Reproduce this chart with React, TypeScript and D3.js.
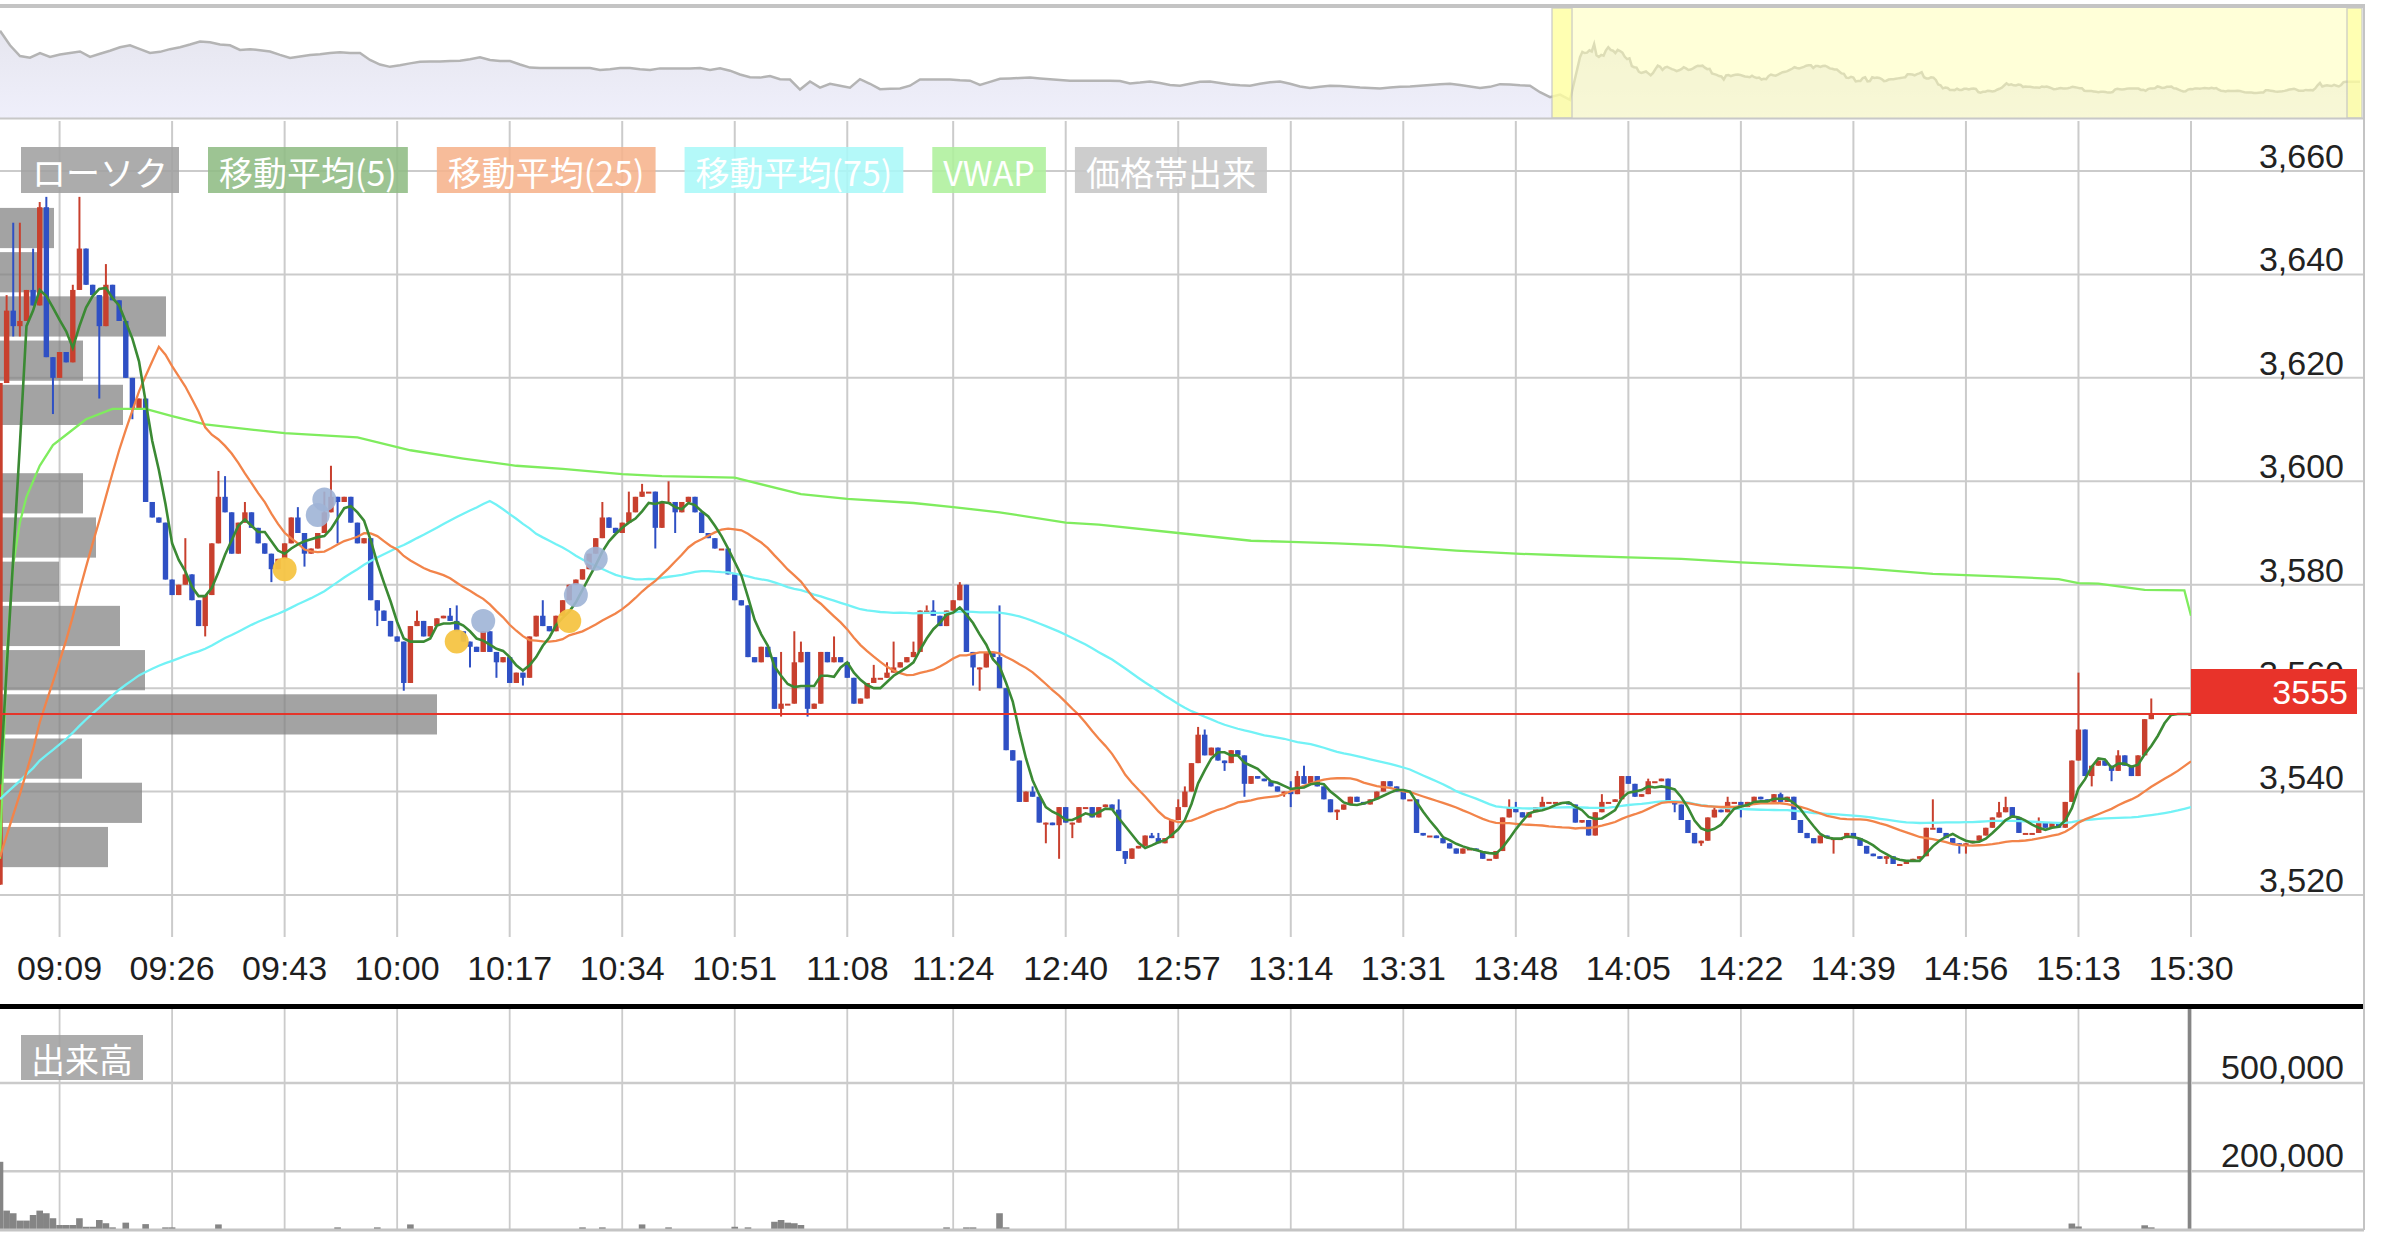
import { useEffect, useMemo } from "react";
import * as d3 from "d3";

// previous session, last 75 minutes in 5-minute steps (read from the navigator)
const prevSessionTail = [3543, 3544, 3546, 3548, 3547, 3544, 3541, 3543, 3546, 3542, 3530, 3524, 3522, 3521, 3522];

// 1-minute closes 09:00-11:30
const closesAM: number[] = [
  3619, 3633, 3630, 3631, 3637, 3634, 3653, 3624, 3620, 3625,
  3623, 3637, 3645, 3638, 3636, 3630, 3638, 3635, 3631, 3620,
  3614, 3616, 3596, 3593, 3592, 3581, 3578, 3580, 3582, 3577,
  3572, 3578, 3588, 3597, 3594, 3586, 3592, 3594, 3591, 3588,
  3586, 3583, 3585, 3588, 3593, 3590, 3586, 3587, 3590, 3594,
  3597, 3596, 3597, 3592, 3588, 3589, 3577, 3575, 3573, 3570,
  3569, 3561, 3572, 3573, 3570, 3572, 3573.5, 3574, 3573, 3571,
  3569, 3568, 3567, 3571, 3567, 3565, 3566, 3561, 3563, 3562,
  3570, 3574, 3572, 3571, 3574, 3577, 3580, 3581, 3583, 3586,
  3589, 3593, 3591, 3590, 3592, 3594, 3597, 3598, 3598, 3591,
  3596, 3596, 3594, 3596, 3597, 3594, 3590, 3589, 3587, 3587,
  3582, 3577, 3576, 3566, 3565, 3568, 3566, 3556, 3557, 3557,
  3565, 3567, 3556, 3557, 3567, 3565, 3566, 3565, 3562, 3557,
  3558, 3561, 3562, 3562, 3563, 3564, 3565, 3566, 3567, 3575,
  3575, 3574, 3572, 3575, 3577, 3580, 3567, 3564, 3564, 3567,
  3566,
];

// 1-minute closes 12:30-15:30 (null = no trade before the closing auction)
const closesPM: (number | null)[] = [
  3560, 3548, 3546, 3538, 3540, 3539, 3534, 3534, 3533.5, 3537,
  3534, 3534, 3537, 3537, 3535, 3537, 3537.5, 3536.5, 3528.5, 3527,
  3529, 3529.5, 3531.5, 3531, 3530, 3531, 3534.5, 3537, 3540, 3545.5,
  3551, 3547, 3548.5, 3546, 3545.5, 3548, 3547, 3541.5, 3543, 3542.5,
  3542, 3541, 3540, 3540, 3539.5, 3543, 3541.5, 3543, 3541, 3538.5,
  3536, 3536.5, 3537.5, 3539, 3538, 3537.5, 3538.5, 3540, 3542, 3541,
  3540, 3538.5, 3538.5, 3532, 3531.5, 3531.5, 3531, 3530, 3529, 3528,
  3529, 3529, 3528.5, 3527, 3527, 3528.5, 3535, 3537, 3536, 3535,
  3536, 3537, 3538, 3538, 3538, 3538, 3537.5, 3534, 3534.5, 3531.5,
  3536, 3538, 3538, 3538.5, 3543, 3541.5, 3539, 3539.5, 3542, 3542,
  3542.5, 3538, 3537.5, 3534.5, 3532, 3530, 3530.5, 3535, 3536.5, 3536,
  3538, 3538, 3537, 3538, 3539, 3538.5, 3538, 3539.5, 3538, 3539,
  3534.5, 3532, 3531, 3530, 3531.5, 3531, 3531, 3531, 3532, 3531,
  3529.5, 3528, 3527.5, 3527, 3527.5, 3526, 3526, 3526.5, 3527, 3527.5,
  3533, 3533, 3532, 3531, 3530, 3529.5, 3530, 3530.5, 3531.5, 3533,
  3535, 3536, 3537, 3535, 3532, 3532, 3532, 3534, 3533, 3534,
  3533, 3538, 3546, 3552, 3543, 3545, 3546, 3545, 3544, 3547,
  3545, 3543, 3547, 3554, 3555, null, null, null, null, null,
  3555,
];

// [slot, price] wick extremes beyond the body
const wickHighs: [number, number][] = [
  [1, 3636], [2, 3650], [3, 3650], [5, 3645], [6, 3654], [7, 3655], [11, 3638], [12, 3655], [14, 3637],
  [16, 3642], [28, 3589], [33, 3602], [34, 3601], [37, 3596], [38, 3594], [45, 3595], [49, 3598], [50, 3603],
  [63, 3575], [68, 3575.5], [69, 3576], [82, 3577], [91, 3596], [95, 3598], [97, 3599.5], [101, 3600],
  [118, 3567], [120, 3571], [121, 3569], [126, 3570], [132, 3564.5], [134, 3565], [135, 3569], [138, 3569],
  [140, 3576], [141, 3577], [145, 3580.5], [151, 3576], [156, 3541], [169, 3538.5], [174, 3532], [175, 3532],
  [178, 3538.5], [179, 3541], [181, 3552.5], [182, 3552], [195, 3542], [196, 3544], [197, 3545], [228, 3538.5],
  [229, 3538], [233, 3539], [242, 3539.5], [249, 3542.5], [259, 3537], [261, 3539], [269, 3539.8], [292, 3538.5],
  [302, 3538], [303, 3539], [308, 3535], [314, 3563], [320, 3548], [325, 3558],
];
const wickLows: [number, number][] = [
  [2, 3628], [3, 3628], [8, 3613], [15, 3616], [20, 3612], [31, 3570], [41, 3580.5], [46, 3583.5], [51, 3588],
  [57, 3572], [61, 3559.5], [71, 3564], [75, 3562], [79, 3560.5], [99, 3587], [102, 3590], [118, 3554.5],
  [122, 3554.5], [147, 3560.5], [148, 3559.5], [158, 3530], [160, 3527], [162, 3531], [170, 3526], [185, 3544],
  [188, 3539], [194, 3539], [195, 3537], [202, 3534.5], [253, 3536], [257, 3529.5], [263, 3535], [277, 3528],
  [285, 3526], [296, 3528], [297, 3528], [316, 3541], [319, 3542],
];

// [slot, shares]
const volumes: [number, number][] = [
  [0, 232000], [1, 66000], [2, 57000], [3, 32000], [4, 32000], [5, 51000], [6, 66000], [7, 57000], [8, 40000],
  [9, 17000], [10, 17000], [11, 17000], [12, 40000], [13, 11000], [14, 11000], [15, 34000], [16, 23000],
  [17, 9000], [19, 25000], [22, 20000], [25, 9000], [26, 9000], [33, 19000], [51, 9000], [57, 9000],
  [62, 19000], [88, 9000], [91, 9000], [97, 19000], [101, 9000], [111, 11000], [113, 9000], [117, 28000],
  [118, 34000], [119, 25000], [120, 23000], [121, 17000], [143, 9000], [146, 9000], [147, 9000], [151, 57000],
  [152, 9000], [313, 22000], [314, 12000], [324, 16000], [325, 9000], [331, 820000],
];

// [slot, price]
const vwapPoints: [number, number][] = [
  [0, 3527], [1, 3566], [2, 3584], [3, 3592], [4, 3597], [6, 3603], [8, 3607], [10, 3609], [13, 3612],
  [17, 3614], [22, 3614], [26, 3612.6], [31, 3611], [38, 3610], [43, 3609.3], [54, 3608.5], [62, 3606],
  [70, 3604.4], [78, 3603], [85, 3602.4], [94, 3601.4], [100, 3601], [111, 3600.7], [121, 3597.5],
  [128, 3596.6], [138, 3595.8], [144, 3595], [151, 3594], [161, 3592], [166, 3591.6], [178, 3590],
  [189, 3588.5], [195, 3588.3], [202, 3588], [209, 3587.6], [220, 3586.6], [229, 3586], [238, 3585.6],
  [246, 3585.3], [254, 3585], [263, 3584.3], [270, 3583.9], [281, 3583.2], [292, 3582.1], [302, 3581.6],
  [311, 3581.1], [314, 3580.3], [317, 3580.2], [324, 3579], [330, 3578.9], [331, 3574],
];

const timeLabels = [
  "09:09", "09:26", "09:43", "10:00", "10:17", "10:34", "10:51", "11:08", "11:24", "12:40",
  "12:57", "13:14", "13:31", "13:48", "14:05", "14:22", "14:39", "14:56", "15:13", "15:30",
];
const priceTicks = [3520, 3540, 3560, 3580, 3600, 3620, 3640, 3660];
const volumeTicks = [200000, 500000];

// volume by price band, bottom band first
const profileFrom = 3525;
const profileStep = 8.55;
const profileVolumes = [216000, 284000, 164000, 874000, 290000, 240000, 118000, 192000, 166000, 0, 246000, 166000, 332000, 80000, 108000];

// navigator: earlier sessions
const navHistory = [
  3688, 3650, 3622, 3618, 3630, 3620, 3626, 3630, 3634, 3620,
  3628, 3636, 3645, 3650, 3640, 3630, 3633, 3640, 3645, 3652,
  3660, 3658, 3652, 3650, 3638, 3640, 3637, 3634, 3625, 3617,
  3621, 3625, 3627, 3630, 3632, 3630, 3630, 3612, 3600, 3594,
  3598, 3603, 3607, 3608, 3608, 3609, 3610, 3614, 3619, 3612,
  3609, 3609, 3600, 3592, 3591, 3591, 3591, 3591, 3591, 3591,
  3586, 3588, 3591, 3591, 3588, 3586, 3590, 3590, 3590, 3590,
  3591, 3586, 3590, 3584, 3574, 3567, 3566, 3570, 3562, 3561,
  3535, 3556, 3540, 3550, 3545, 3540, 3562, 3550, 3536, 3537,
  3538, 3545, 3561, 3561, 3561, 3561, 3559, 3558, 3547, 3555,
  3563, 3564, 3565, 3566, 3564, 3562, 3560, 3558, 3558, 3558,
  3558, 3558, 3557, 3551, 3553, 3556, 3552, 3547, 3545, 3550,
  3555, 3556, 3552, 3548, 3546, 3545, 3550, 3554, 3556, 3550,
  3543, 3539, 3542, 3545, 3544, 3542, 3540, 3539, 3538, 3540,
  3542, 3543, 3545, 3547, 3549, 3550, 3547, 3543, 3539, 3542,
  3549, 3548, 3546, 3545, 3528, 3515, 3522, 3508,
];

// signal markers [slot, price]
const yellowMarks: [number, number][] = [[43, 3583], [69, 3569], [86, 3573]];
const greyMarks: [number, number][] = [[48, 3593.5], [49, 3596.5], [73, 3573], [87, 3578], [90, 3585]];

const lastPrice = 3555;

const legendLabels = ["ローソク", "移動平均(5)", "移動平均(25)", "移動平均(75)", "VWAP", "価格帯出来"];
const legendFills = ["#a0a0a0", "#90bc84", "#f6b38c", "#aaf8f8", "#aef09c", "#c6c6c6"];

const W = 2384;
const H = 1246;
const PLOT_R = 2191;
const FRAME_R = 2364;
const NAV_T = 8;
const NAV_B = 118;
const PLOT_T = 121;
const PLOT_B = 937;
const VOL_T = 1009;
const VOL_B = 1230;

const UP = "#c8402e";
const DOWN = "#2f50c4";
const GRID = "#cbcbcb";
const NUM_FONT = "'Liberation Sans', Arial, sans-serif";
const JP_FONT = "'Noto Sans CJK JP', sans-serif";

function slotOf(t: string) {
  const [h, m] = t.split(":").map(Number);
  const min = h * 60 + m;
  return min <= 690 ? min - 540 : 151 + (min - 750);
}

function textWidth(s: string, font: string) {
  const ctx = document.createElement("canvas").getContext("2d");
  if (!ctx) return s.length * 30;
  ctx.font = font;
  return ctx.measureText(s).width;
}

export default function App() {
  useEffect(() => {
    document.body.style.margin = "0";
    document.body.style.overflow = "hidden";
  }, []);

  const x = d3.scaleLinear().domain([0, 331]).range([0, PLOT_R]);
  const y = d3.scaleLinear().domain([3520, 3660]).range([895, 171]);
  const yv = d3.scaleLinear().domain([0, 500000]).range([VOL_B, 1083]);
  const profileX = d3.scaleLinear().domain([0, d3.max(profileVolumes) ?? 1]).range([0, 437]);

  const model = useMemo(() => {
    const closes: (number | null)[] = [...closesAM, ...closesPM];
    const filled: number[] = [];
    closes.forEach((c, i) => filled.push(c ?? filled[i - 1]));
    const history = prevSessionTail.flatMap((v) => [v, v, v, v, v]);
    const series = [...history, ...filled];
    const ma = (n: number) =>
      filled.map((_, i) => d3.mean(series.slice(history.length + i - n + 1, history.length + i + 1)) ?? 0);

    const hi = new Map(wickHighs);
    const lo = new Map(wickLows);
    const candles = closes
      .map((c, i) => {
        if (c == null) return null;
        const o = i === 0 ? prevSessionTail[prevSessionTail.length - 1] : filled[i - 1];
        return {
          i,
          o,
          c,
          h: Math.max(o, c, hi.get(i) ?? -Infinity),
          l: Math.min(o, c, lo.get(i) ?? Infinity),
        };
      })
      .filter((d): d is { i: number; o: number; c: number; h: number; l: number } => d !== null);

    return { filled, candles, ma5: ma(5), ma25: ma(25), ma75: ma(75) };
  }, []);

  const line = d3
    .line<number>()
    .x((_, i) => x(i))
    .y((v) => y(v));
  const vwapLine = d3
    .line<[number, number]>()
    .x((d) => x(d[0]))
    .y((d) => y(d[1]));

  // navigator
  const navX = d3.scaleLinear().domain([0, navHistory.length + 78]).range([0, 2360]);
  const navY = d3.scaleLinear().domain([3461, 3747]).range([NAV_B, NAV_T]);
  const navPts: [number, number][] = [
    ...navHistory.map((v, i) => [navX(i), navY(v)] as [number, number]),
    ...model.filled.map((v, s) => [navX(navHistory.length + (s * 78) / 331), navY(v)] as [number, number]),
  ];
  const navArea = d3
    .area<[number, number]>()
    .x((d) => d[0])
    .y0(NAV_B)
    .y1((d) => d[1])(navPts);
  const navLine = d3.line()(navPts);

  // legend layout
  const legendFont = `34px ${JP_FONT}`;
  let lx = 21;
  const legend = legendLabels.map((label, k) => {
    const w = textWidth(label, legendFont) + 22;
    const item = { label, x: lx, w, fill: legendFills[k] };
    lx += w + 29;
    return item;
  });
  const volLabel = "出来高";
  const volLabelW = textWidth(volLabel, legendFont) + 20;

  const bodyW = 5.4;
  const lastY = y(lastPrice);

  return (
    <div style={{ position: "absolute", left: 0, top: 0 }}>
      <svg width={W} height={H} style={{ display: "block", background: "#ffffff" }}>
        <defs>
          <clipPath id="plotClip">
            <rect x={0} y={PLOT_T} width={PLOT_R} height={PLOT_B - PLOT_T} />
          </clipPath>
          <clipPath id="volClip">
            <rect x={0} y={VOL_T} width={PLOT_R} height={VOL_B - VOL_T} />
          </clipPath>
          <linearGradient id="navFill" x1="0" y1="0" x2="0" y2="1">
            <stop offset="0%" stopColor="#e6e6ef" />
            <stop offset="100%" stopColor="#efeffb" />
          </linearGradient>
        </defs>

        {/* navigator */}
        <path d={navArea ?? ""} fill="url(#navFill)" />
        <path d={navLine ?? ""} fill="none" stroke="#b4b4b4" strokeWidth={2.5} />
        <rect x={1552} y={NAV_T} width={810} height={NAV_B - NAV_T} fill="#ffffb8" opacity={0.55} />
        <rect x={1552} y={NAV_T} width={20} height={NAV_B - NAV_T} fill="#ffff9a" opacity={0.6} stroke="#b8b8b8" strokeWidth={1.5} />
        <rect x={2347} y={NAV_T} width={15} height={NAV_B - NAV_T} fill="#ffff9a" opacity={0.6} stroke="#b8b8b8" strokeWidth={1.5} />
        <rect x={0} y={4} width={FRAME_R} height={4} fill="#c4c4c4" />
        <line x1={0} x2={FRAME_R} y1={NAV_B + 0.5} y2={NAV_B + 0.5} stroke="#c8c8c8" strokeWidth={2} />

        {/* price grid */}
        {priceTicks.map((p) => (
          <line key={p} x1={0} x2={FRAME_R} y1={y(p)} y2={y(p)} stroke={GRID} strokeWidth={2} />
        ))}
        {timeLabels.map((t) => (
          <line key={t} x1={x(slotOf(t))} x2={x(slotOf(t))} y1={PLOT_T} y2={PLOT_B} stroke={GRID} strokeWidth={2} />
        ))}
        {priceTicks.map((p) => (
          <text key={p} x={2344} y={y(p) - 3} textAnchor="end" fontFamily={NUM_FONT} fontSize={34} fill="#222">
            {d3.format(",")(p)}
          </text>
        ))}

        {/* volume by price */}
        {profileVolumes.map((v, k) => {
          const top = y(profileFrom + (k + 1) * profileStep) + 2;
          const bottom = y(profileFrom + k * profileStep) - 2;
          return <rect key={k} x={0} y={top} width={profileX(v)} height={bottom - top} fill="#7f7f7f" opacity={0.72} />;
        })}

        <g clipPath="url(#plotClip)">
          {model.candles.map((d) => {
            const up = d.c >= d.o;
            const yTop = y(Math.max(d.o, d.c));
            const hBody = Math.max(2, Math.abs(y(d.o) - y(d.c)));
            return (
              <g key={d.i}>
                <line x1={x(d.i)} x2={x(d.i)} y1={y(d.h)} y2={y(d.l)} stroke={up ? UP : DOWN} strokeWidth={2} />
                <rect x={x(d.i) - bodyW / 2} y={yTop} width={bodyW} height={hBody} fill={up ? UP : DOWN} />
              </g>
            );
          })}
          <path d={vwapLine(vwapPoints) ?? ""} fill="none" stroke="#7fec5e" strokeWidth={2.3} />
          <path d={line(model.ma75) ?? ""} fill="none" stroke="#72f2f6" strokeWidth={2.3} />
          <path d={line(model.ma25) ?? ""} fill="none" stroke="#f2844a" strokeWidth={2.3} />
          <path d={line(model.ma5) ?? ""} fill="none" stroke="#3b8a34" strokeWidth={2.6} />
          {yellowMarks.map(([s, p], k) => (
            <circle key={`y${k}`} cx={x(s)} cy={y(p)} r={12} fill="#f5c443" opacity={0.95} />
          ))}
          {greyMarks.map(([s, p], k) => (
            <circle key={`g${k}`} cx={x(s)} cy={y(p)} r={12} fill="#9fb4d6" opacity={0.9} />
          ))}
        </g>

        {/* last price */}
        <line x1={0} x2={PLOT_R} y1={lastY} y2={lastY} stroke="#e5352a" strokeWidth={2} />
        <rect x={PLOT_R} y={lastY - 45} width={166} height={45} fill="#e8332a" />
        <text x={2348} y={lastY - 10} textAnchor="end" fontFamily={NUM_FONT} fontSize={34} fill="#ffffff">
          {lastPrice}
        </text>

        {/* legend */}
        {legend.map((d) => (
          <g key={d.label}>
            <rect x={d.x} y={147} width={d.w} height={46} fill={d.fill} opacity={0.88} />
            <text x={d.x + d.w / 2} y={171} textAnchor="middle" dominantBaseline="central" fontFamily={JP_FONT} fontSize={34} fill="#ffffff">
              {d.label}
            </text>
          </g>
        ))}

        {/* time axis */}
        {timeLabels.map((t) => (
          <text key={t} x={x(slotOf(t))} y={980} textAnchor="middle" fontFamily={NUM_FONT} fontSize={34} fill="#1e1e1e">
            {t}
          </text>
        ))}

        <rect x={0} y={1004} width={FRAME_R + 1} height={5} fill="#000000" />

        {/* volume panel */}
        {timeLabels.map((t) => (
          <line key={t} x1={x(slotOf(t))} x2={x(slotOf(t))} y1={VOL_T} y2={VOL_B} stroke={GRID} strokeWidth={1.8} />
        ))}
        {volumeTicks.map((v) => (
          <line key={v} x1={0} x2={FRAME_R} y1={yv(v)} y2={yv(v)} stroke={GRID} strokeWidth={2.5} />
        ))}
        <g clipPath="url(#volClip)">
          {volumes.map(([s, v]) => (
            <rect key={s} x={x(s) - 3.3} y={yv(v)} width={6.6} height={VOL_B - yv(v)} fill="#858585" />
          ))}
        </g>
        <line x1={0} x2={FRAME_R} y1={VOL_B} y2={VOL_B} stroke="#c4c4c4" strokeWidth={3} />
        {volumeTicks.map((v) => (
          <text key={v} x={2344} y={yv(v) - 4} textAnchor="end" fontFamily={NUM_FONT} fontSize={34} fill="#222">
            {d3.format(",")(v)}
          </text>
        ))}
        <rect x={21} y={1035} width={volLabelW} height={45} fill="#a0a0a0" opacity={0.88} />
        <text x={21 + volLabelW / 2} y={1058} textAnchor="middle" dominantBaseline="central" fontFamily={JP_FONT} fontSize={34} fill="#ffffff">
          {volLabel}
        </text>

        <line x1={FRAME_R} x2={FRAME_R} y1={4} y2={VOL_B} stroke="#c4c4c4" strokeWidth={2} />
      </svg>
    </div>
  );
}
